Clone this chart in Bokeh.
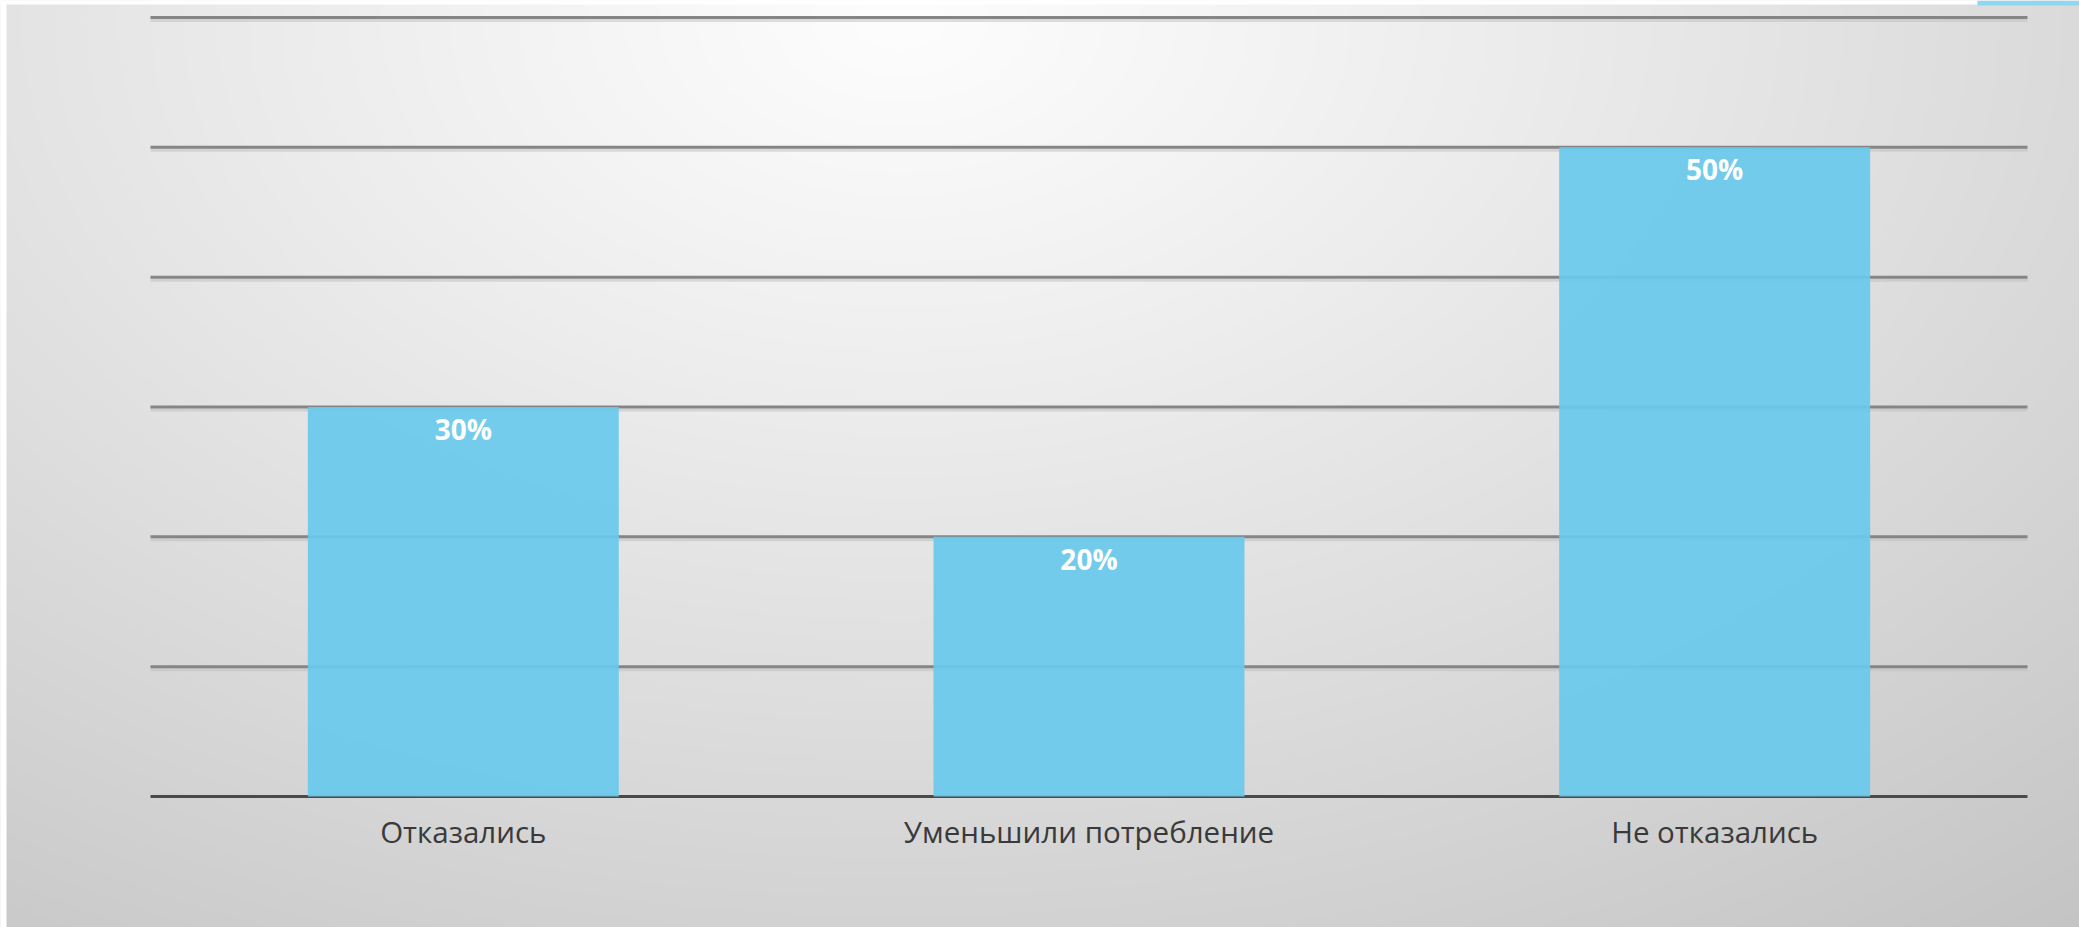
import numpy as np
from bokeh.plotting import figure
from bokeh.models import Range1d, ColumnDataSource
from bokeh.core.properties import value
from bokeh.embed import file_html
from bokeh.resources import INLINE

# ---- data -------------------------------------------------------------
categories = ["Отказались", "Уменьшили потребление", "Не отказались"]
shares = [30, 20, 50]                      # percent of respondents
share_labels = ["30%", "20%", "50%"]
grid_levels = [10, 20, 30, 40, 50, 60]     # horizontal rules, percent

# ---- canvas / ranges --------------------------------------------------
W, H = 2079, 927
X_START, X_END = -0.2397, 3.0831           # category slots span 0..3
Y_START, Y_END = -10.09, 61.31
PX_X = W / (X_END - X_START)
PX_Y = H / (Y_END - Y_START)

p = figure(width=W, height=H, output_backend="svg", toolbar_location=None,
           x_range=Range1d(X_START, X_END), y_range=Range1d(Y_START, Y_END),
           min_border=0)
p.axis.visible = False
p.grid.visible = False
p.outline_line_color = None
p.background_fill_color = "white"
p.border_fill_color = "white"

# soft grey radial backdrop, brightest near the top centre
ds = 3
gw, gh = W // ds, H // ds
xx, yy = np.meshgrid((np.arange(gw) + 0.5) * ds, (np.arange(gh) + 0.5) * ds)
d = np.sqrt(((xx - 900) / 1650.0) ** 2 + ((yy - 20) / 1050.0) ** 2)
shade = np.clip(253 - 50 * d ** 1.1, 196, 253).astype(np.uint32)
shade = shade[::-1]                      # image rows run bottom-up
rgba = (255 << 24) | (shade << 16) | (shade << 8) | shade
p.image_rgba(image=[rgba.astype(np.uint32)], x=X_START, y=Y_START,
             dw=X_END - X_START, dh=Y_END - Y_START)

# thin white frame at the left and top edges
p.quad(left=X_START, right=X_START + 6 / PX_X, bottom=Y_START, top=Y_END,
       fill_color="white", line_color=None)
p.quad(left=X_START, right=X_END, bottom=Y_END - 4 / PX_Y, top=Y_END,
       fill_color="white", line_color=None)
p.quad(left=X_START + 1977 / PX_X, right=X_END, bottom=Y_END - 5 / PX_Y,
       top=Y_END, fill_color="#8fd6ef", line_color=None)

n = len(categories)
xs = [i + 0.5 for i in range(n)]

# horizontal rules with a faint shadow underneath
p.segment(x0=[0] * len(grid_levels), x1=[n] * len(grid_levels),
          y0=[g - 3 / PX_Y for g in grid_levels],
          y1=[g - 3 / PX_Y for g in grid_levels],
          line_color="#bdbdbd", line_width=3, line_alpha=0.5)
p.segment(x0=[0] * len(grid_levels), x1=[n] * len(grid_levels),
          y0=grid_levels, y1=grid_levels, line_color="#858585", line_width=3)
p.segment(x0=[0], x1=[n], y0=[0], y1=[0], line_color="#4a4a4a", line_width=3)

src = ColumnDataSource(dict(x=xs, top=shares, label=share_labels,
                            cat=categories))
p.vbar(x="x", top="top", bottom=0, width=0.497, source=src,
       fill_color="#69c9eb", fill_alpha=0.93, line_color=None)

p.text(x="x", y="top", text="label", source=src, text_align="center",
       text_baseline="middle", y_offset=22, text_color="white",
       text_font=value("Open Sans"), text_font_style="bold",
       text_font_size="28px")

p.text(x="x", y=0, text="cat", source=src, text_align="center",
       text_baseline="middle", y_offset=35, text_color="#3a3a3a",
       text_font=value("Open Sans"), text_font_size="29.5px")

open("out.html", "w").write(file_html(p, INLINE))
